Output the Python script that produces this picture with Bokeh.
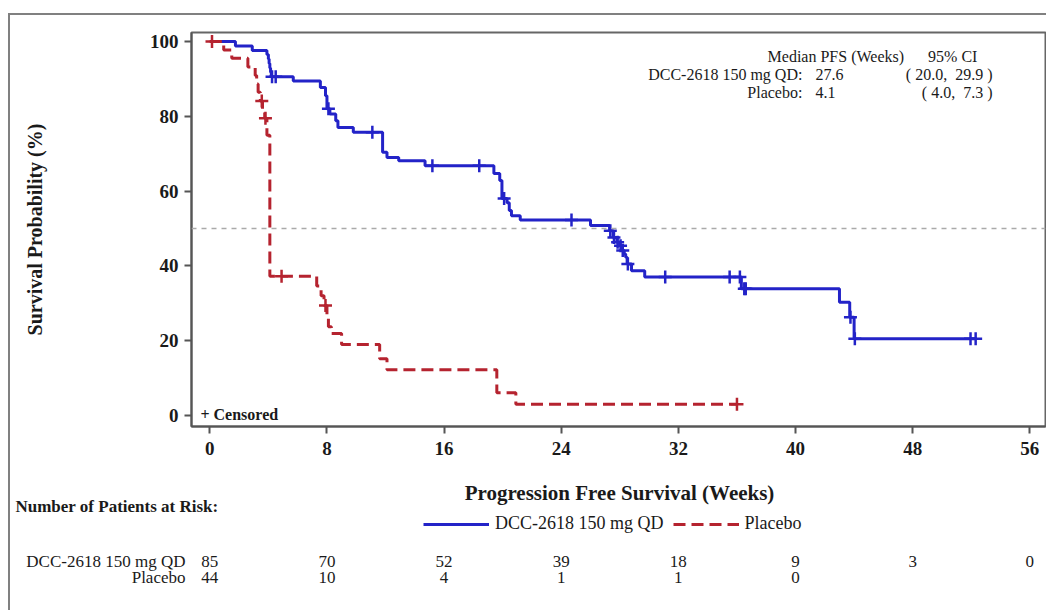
from bokeh.plotting import figure
from bokeh.layouts import column
from bokeh.models import Range1d, Span, Label, Legend, LegendItem
from bokeh.embed import file_html
from bokeh.resources import INLINE
import numpy as np

# ---------------- data ----------------
blue_name = "DCC-2618 150 mg QD"
red_name = "Placebo"

blue_t = [0, 1.75, 2.9, 3.9, 4.0, 4.05, 4.1, 4.15, 4.2, 5.7, 7.55, 7.9, 8.0, 8.2, 8.6, 8.75,
          9.8, 11.8, 12.1, 12.9, 14.7, 19.4, 19.8, 19.95, 20.3, 20.45, 20.6, 21.2, 26.0,
          27.3, 27.55, 27.8, 28.0, 28.15, 28.3, 28.4, 28.5, 28.8, 29.7, 36.3, 43.0, 43.7, 44.0]
blue_s = [100, 98.8, 97.6, 96.5, 95.3, 94.1, 92.9, 91.8, 90.6, 89.4, 87.7, 85.5, 82.0, 80.6, 78.8, 77.0,
          75.7, 70.4, 69.0, 68.1, 66.8, 64.7, 62.8, 58.0, 56.9, 54.8, 53.4, 52.3, 50.8,
          49.4, 47.6, 46.3, 45.4, 44.1, 43.2, 42.3, 40.5, 38.7, 37.0, 33.9, 30.3, 26.3, 20.5]
blue_end = 52.35
blue_cens = [4.25, 4.5, 8.1, 11.1, 15.2, 18.4, 20.1, 24.7, 27.35, 27.6, 27.85, 28.05, 28.2, 28.55,
             31.1, 35.5, 36.2, 36.5, 36.6, 43.75, 44.05, 51.95, 52.3]

red_t = [0, 0.95, 1.5, 2.6, 3.1, 3.2, 3.3, 3.45, 3.6, 3.75, 3.9, 4.1, 7.3, 7.6, 7.8, 8.0, 8.1,
         8.3, 9.0, 11.6, 12.1, 19.6, 20.9]
red_s = [100, 97.7, 95.5, 93.2, 90.9, 88.6, 86.4, 84.1, 81.8, 79.5, 74.9, 37.2, 34.6, 32.0, 29.4,
         26.6, 23.7, 21.9, 19.0, 15.2, 12.2, 6.1, 3.0]
red_end = 36.0
red_cens = [0.15, 3.55, 3.8, 4.9, 7.9, 36.0]

x_ticks = [0, 8, 16, 24, 32, 40, 48, 56]
y_ticks = [0, 20, 40, 60, 80, 100]
risk_blue = [85, 70, 52, 39, 18, 9, 3, 0]
risk_red = [44, 10, 4, 1, 1, 0]

NB = "\u00a0"
median_header = ["Median PFS (Weeks)", "95% CI"]
median_rows = [("DCC-2618 150 mg QD:", "27.6", "(" + NB + "20.0," + NB * 2 + "29.9" + NB + ")"),
               ("Placebo:", "4.1", "(" + NB + "4.0," + NB * 2 + "7.3" + NB + ")")]

x_title = "Progression Free Survival (Weeks)"
y_title = "Survival Probability (%)"
risk_title = "Number of Patients at Risk:"

BLUE = "#2323c8"
RED = "#b5232f"
FONT = "Liberation Serif"
TXT = "#1a1a1a"

def surv_at(times, surv, t):
    i = int(np.searchsorted(np.array(times), t, side="right")) - 1
    return surv[max(i, 0)]

# ---------------- main KM figure ----------------
p = figure(width=1036, height=455, output_backend="svg", toolbar_location=None,
           x_range=Range1d(-1.25, 57.07), y_range=Range1d(-2.94, 102.4),
           min_border_left=181, min_border_right=1, min_border_top=17, min_border_bottom=44,
           frame_align=False)
p.background_fill_color = "white"
p.border_fill_color = "white"
p.xgrid.visible = False
p.ygrid.visible = False
p.outline_line_color = "#666666"
p.outline_line_width = 2

for ax in (p.xaxis[0], p.yaxis[0]):
    ax.axis_line_color = "#555555"
    ax.axis_line_width = 2
    ax.major_tick_line_color = "#555555"
    ax.major_tick_line_width = 2
    ax.major_tick_out = 7
    ax.major_tick_in = 0
    ax.minor_tick_out = 0
    ax.minor_tick_in = 0
    ax.major_label_text_font = FONT
    ax.major_label_text_font_size = "19px"
    ax.major_label_text_font_style = "bold"
    ax.major_label_text_color = TXT
    ax.axis_label_text_font = FONT
    ax.axis_label_text_font_size = "20px"
    ax.axis_label_text_font_style = "bold"
    ax.axis_label_text_color = TXT

p.xaxis.ticker = x_ticks
p.yaxis.ticker = y_ticks
p.yaxis.axis_label = y_title
p.xaxis.major_label_standoff = 8
p.yaxis.major_label_standoff = 6
p.yaxis.axis_label_standoff = 101

p.add_layout(Span(location=50, dimension="width", line_color="#aaaaaa",
                  line_dash="5 5", line_width=1.5))

bx = blue_t + [blue_end]
by = blue_s + [blue_s[-1]]
rx = red_t + [red_end]
ry = red_s + [red_s[-1]]
p.step(bx, by, mode="after", line_color=BLUE, line_width=3)
p.step(rx, ry, mode="after", line_color=RED, line_width=3, line_dash="12 6")

bcy = [surv_at(blue_t, blue_s, c) for c in blue_cens]
rcy = [surv_at(red_t, red_s, c) for c in red_cens]
p.scatter(blue_cens, bcy, marker="cross", size=13, line_color=BLUE, line_width=2.5)
p.scatter(red_cens, rcy, marker="cross", size=13, line_color=RED, line_width=2.5)

def lab(fig, x, y, text, align="left", size="16px", style="normal", baseline="middle"):
    fig.add_layout(Label(x=x, y=y, text=text, text_align=align, text_baseline=baseline,
                         text_font=FONT, text_font_size=size, text_font_style=style,
                         text_color=TXT))

lab(p, -0.64, 0.4, "+ Censored", size="16px", style="bold")

lab(p, 38.09, 95.9, median_header[0])
lab(p, 52.42, 95.9, median_header[1], align="right")
for (name, med, ci), yy in zip(median_rows, [91.1, 86.3]):
    lab(p, 40.47, yy, name, align="right")
    lab(p, 41.36, yy, med)
    lab(p, 53.45, yy, ci, align="right")

# ---------------- bottom panel: x title, legend, at-risk table ----------------
q = figure(width=1036, height=140, output_backend="svg", toolbar_location=None,
           x_range=Range1d(-13.61, 57.14), y_range=Range1d(610, 470),
           x_axis_type=None, y_axis_type=None,
           min_border_left=0, min_border_right=0, min_border_top=0, min_border_bottom=0,
           frame_align=False)
q.outline_line_color = None
q.xgrid.visible = False
q.ygrid.visible = False
q.background_fill_color = "white"
q.border_fill_color = "white"

lab(q, 27.98, 492, x_title, align="center", size="21px", style="bold")
lab(q, -13.27, 506, risk_title, size="17px", style="bold")

gb = q.line([-100, -99], [0, 0], line_color=BLUE, line_width=3)
gr = q.line([-100, -99], [0, 0], line_color=RED, line_width=3, line_dash="12 6")
legend = Legend(items=[LegendItem(label=blue_name, renderers=[gb]),
                       LegendItem(label=red_name, renderers=[gr])],
                orientation="horizontal", location=(413, 76),
                glyph_width=66, glyph_height=20, label_standoff=6, spacing=9,
                padding=0, margin=0, border_line_alpha=0, background_fill_alpha=0,
                label_text_font=FONT, label_text_font_size="18px", label_text_color=TXT)
q.add_layout(legend, "center")

lab(q, -1.66, 561, blue_name, align="right", size="17px")
lab(q, -1.66, 577, red_name, align="right", size="17px")
for xt, n in zip(x_ticks, risk_blue):
    lab(q, xt, 561, str(n), align="center", size="17px")
for xt, n in zip(x_ticks, risk_red):
    lab(q, xt, 577, str(n), align="center", size="17px")

layout = column(p, q, spacing=0,
                styles={"margin": "13px 0px 0px 8px",
                        "border-top": "2px solid #808080",
                        "border-left": "2px solid #808080"})

open("out.html", "w").write(file_html(layout, INLINE))
